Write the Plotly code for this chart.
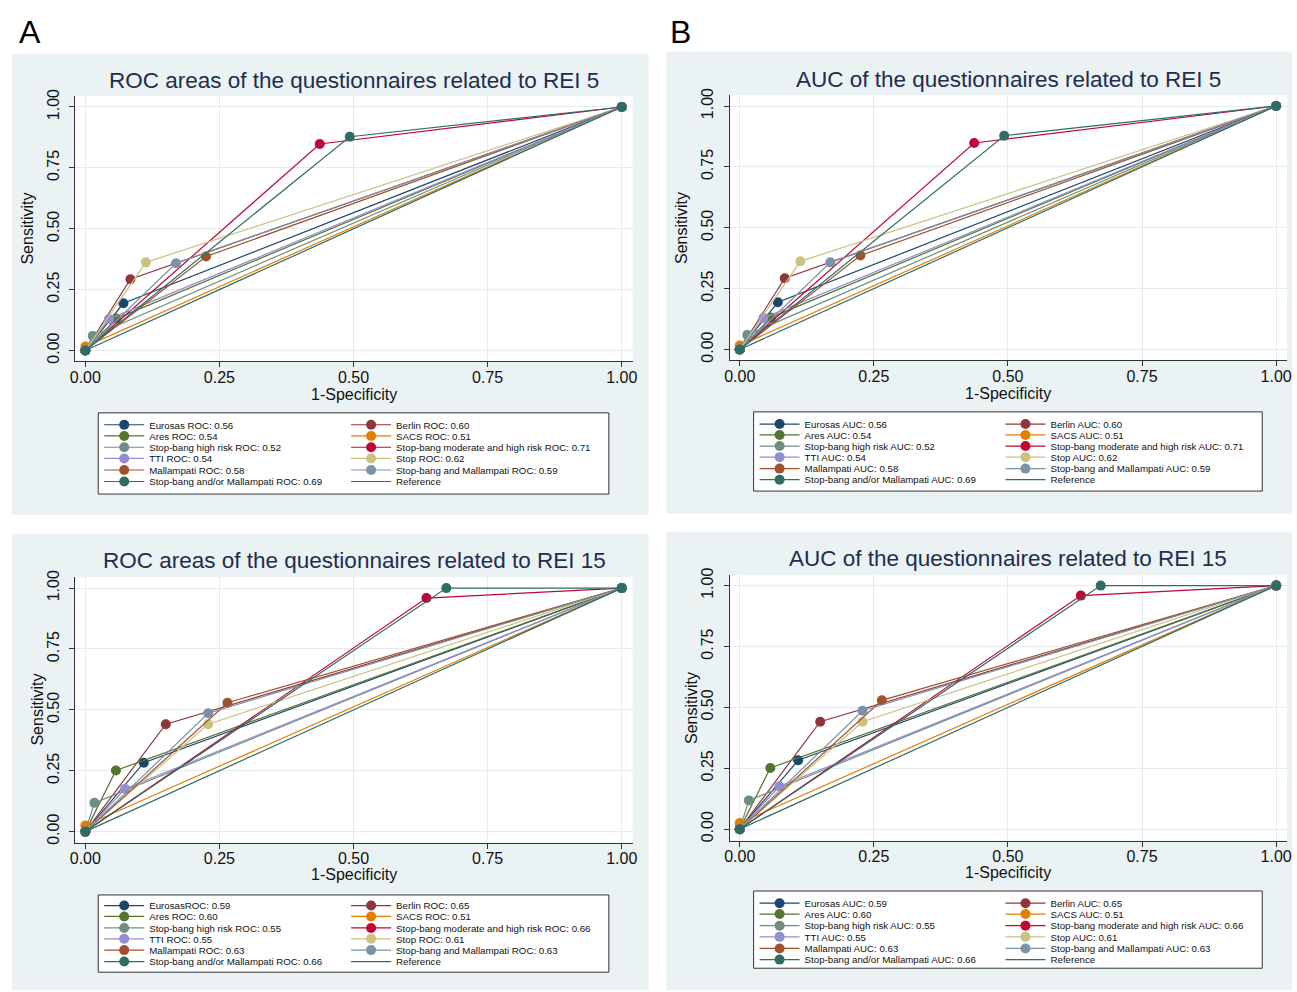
import plotly.graph_objects as go

W, H = 1297, 992
FONT = "Liberation Sans, Arial, sans-serif"

# ---------------- data ----------------
QUESTIONNAIRES = [
    "Eurosas", "Berlin", "Ares", "SACS", "Stop-bang high risk",
    "Stop-bang moderate and high risk", "TTI", "Stop", "Mallampati",
    "Stop-bang and Mallampati", "Stop-bang and/or Mallampati",
]
REFERENCE_LABEL = "Reference"
ROC_START = (0.0, 0.0)
ROC_END = (1.0, 1.0)

# operating point (1-specificity, sensitivity) for REI 5
FPR_REI5 = [0.071, 0.084, 0.058, 0.000, 0.014, 0.437, 0.044, 0.113, 0.225, 0.169, 0.493]
TPR_REI5 = [0.194, 0.293, 0.131, 0.016, 0.060, 0.848, 0.129, 0.362, 0.386, 0.358, 0.878]
AUC_REI5 = [0.56, 0.60, 0.54, 0.51, 0.52, 0.71, 0.54, 0.62, 0.58, 0.59, 0.69]

# operating point for REI 15
FPR_REI15 = [0.109, 0.150, 0.057, 0.000, 0.017, 0.636, 0.074, 0.229, 0.265, 0.229, 0.673]
TPR_REI15 = [0.283, 0.441, 0.251, 0.025, 0.118, 0.959, 0.176, 0.441, 0.529, 0.486, 1.000]
AUC_REI15 = [0.59, 0.65, 0.60, 0.51, 0.55, 0.66, 0.55, 0.61, 0.63, 0.63, 0.66]

TICK_VALUES = [0.0, 0.25, 0.50, 0.75, 1.0]
X_TITLE = "1-Specificity"
Y_TITLE = "Sensitivity"

# ---------------- style ----------------
COLORS = ["#1a476f", "#90353b", "#55752f", "#e37e00", "#6e8e84", "#c10534",
          "#938dd2", "#cac27e", "#a0522d", "#7b92a8", "#2d6d66"]
REF_COLOR = "#2d6d66"
PANEL_BG = "#eaf2f3"
GRID = "#e3ecee"
AXIS_COL = "#333333"
TITLE_COL = "#1e2d50"


def fx(px):
    return px / W


def fy(py):
    return 1 - py / H


PANELS = [
    dict(metric="ROC", title="ROC areas of the questionnaires related to REI 5",
         fpr=FPR_REI5, tpr=TPR_REI5, auc=AUC_REI5,
         box=(6, 46, 648, 512), plot=(70, 89, 632, 357), x0=80, x1=621, y1=100, y0=346,
         title_y=73, xtitle_y=390, ytitle_x=22,
         leg_box=(93, 409, 608, 491), leg_x=(94, 343),
         leg_rows=[421, 432.3, 443.7, 455, 466.7, 478.3], fix=None),
    dict(metric="AUC", title="AUC of the questionnaires related to REI 5",
         fpr=FPR_REI5, tpr=TPR_REI5, auc=AUC_REI5,
         box=(666, 44, 1297, 511), plot=(730, 88, 1292, 356), x0=740, x1=1281, y1=99, y0=345,
         title_y=72, xtitle_y=389, ytitle_x=682,
         leg_box=(754, 408, 1267, 488), leg_x=(755, 1003),
         leg_rows=[420.3, 431.3, 442.5, 453.7, 465.3, 476.5], fix=None),
    dict(metric="ROC", title="ROC areas of the questionnaires related to REI 15",
         fpr=FPR_REI15, tpr=TPR_REI15, auc=AUC_REI15,
         box=(6, 531, 648, 992), plot=(70, 575, 632, 843), x0=80, x1=621, y1=586, y0=832,
         title_y=558, xtitle_y=875, ytitle_x=32,
         leg_box=(93, 896, 608, 974), leg_x=(94, 343),
         leg_rows=[906.7, 917.7, 929.3, 940.3, 951.7, 963.3], fix=("Eurosas ROC", "EurosasROC")),
    dict(metric="AUC", title="AUC of the questionnaires related to REI 15",
         fpr=FPR_REI15, tpr=TPR_REI15, auc=AUC_REI15,
         box=(666, 529, 1297, 992), plot=(730, 573, 1292, 841), x0=740, x1=1281, y1=583.5, y0=829.5,
         title_y=556, xtitle_y=873, ytitle_x=692,
         leg_box=(754, 892, 1267, 970), leg_x=(755, 1003),
         leg_rows=[904.3, 915.3, 927, 938.3, 950, 961.3], fix=None),
]

fig = go.Figure()
shapes = []
annotations = []
layout = {}
legend_n = 0

for k, p in enumerate(PANELS):
    sfx = "" if k == 0 else str(k + 1)
    xa, ya = "x" + sfx, "y" + sfx
    L, T, R, B = p["plot"]
    xr = [(L - p["x0"]) / (p["x1"] - p["x0"]), (R - p["x0"]) / (p["x1"] - p["x0"])]
    yr = [(p["y0"] - B) / (p["y0"] - p["y1"]), (p["y0"] - T) / (p["y0"] - p["y1"])]
    common = dict(
        tickvals=TICK_VALUES, tickformat=".2f", showline=True,
        linecolor=AXIS_COL, linewidth=1, ticks="outside", ticklen=5, tickcolor=AXIS_COL,
        tickwidth=1, showgrid=True, gridcolor=GRID, gridwidth=1, zeroline=False,
        tickfont=dict(family=FONT, size=16, color="#111111"), fixedrange=True,
    )
    layout["xaxis" + sfx] = dict(common, range=xr, domain=[fx(L), fx(R)], anchor=ya,
                                 ticklabelstandoff=-4)
    layout["yaxis" + sfx] = dict(common, range=yr, domain=[fy(B), fy(T)], anchor=xa,
                                 tickangle=-90, ticklabelstandoff=4)

    # panel background, plot region, legend box
    bx0, by0, bx1, by1 = p["box"]
    shapes.append(dict(type="rect", xref="paper", yref="paper", x0=fx(bx0), x1=fx(bx1),
                       y0=fy(by1), y1=fy(by0), fillcolor=PANEL_BG, line=dict(width=0),
                       layer="below"))
    shapes.append(dict(type="rect", xref=xa + " domain", yref=ya + " domain", x0=0, x1=1,
                       y0=0, y1=1, fillcolor="white", line=dict(width=0), layer="below"))
    lx0, ly0, lx1, ly1 = p["leg_box"]
    shapes.append(dict(type="rect", xref="paper", yref="paper", x0=fx(lx0), x1=fx(lx1),
                       y0=fy(ly1), y1=fy(ly0), fillcolor="white",
                       line=dict(color=AXIS_COL, width=1), layer="below"))

    # titles
    annotations.append(dict(text=p["title"], xref="paper", yref="paper",
                            x=fx((L + R) / 2), y=fy(p["title_y"]), xanchor="center",
                            yanchor="middle", showarrow=False,
                            font=dict(family=FONT, size=22.5, color=TITLE_COL)))
    annotations.append(dict(text=X_TITLE, xref="paper", yref="paper",
                            x=fx((L + R) / 2), y=fy(p["xtitle_y"]), xanchor="center",
                            yanchor="middle", showarrow=False,
                            font=dict(family=FONT, size=16, color="#111111")))
    annotations.append(dict(text=Y_TITLE, xref="paper", yref="paper",
                            x=fx(p["ytitle_x"]), y=fy((T + B) / 2), xanchor="center",
                            yanchor="middle", showarrow=False, textangle=-90,
                            font=dict(family=FONT, size=16, color="#111111")))

    labels = [f"{q} {p['metric']}: {a:.2f}" for q, a in zip(QUESTIONNAIRES, p["auc"])]
    if p["fix"]:
        labels[0] = labels[0].replace(*p["fix"])
    labels.append(REFERENCE_LABEL)

    for i in range(12):
        legend_n += 1
        lid = "legend" if legend_n == 1 else f"legend{legend_n}"
        col, row = i % 2, i // 2
        layout[lid] = dict(x=fx(p["leg_x"][col]), y=fy(p["leg_rows"][row]), xref="paper",
                           yref="paper", xanchor="left", yanchor="middle",
                           bgcolor="rgba(0,0,0,0)", borderwidth=0, itemwidth=40,
                           tracegroupgap=0, itemclick=False, itemdoubleclick=False,
                           font=dict(family=FONT, size=9.7, color="#111111"))
        if i < 11:
            fig.add_trace(go.Scatter(
                x=[ROC_START[0], p["fpr"][i], ROC_END[0]],
                y=[ROC_START[1], p["tpr"][i], ROC_END[1]],
                mode="lines+markers", name=labels[i], legend=lid,
                xaxis=xa, yaxis=ya, cliponaxis=False,
                line=dict(color=COLORS[i], width=1.2),
                marker=dict(color=COLORS[i], size=10, symbol="circle"),
                hoverinfo="skip",
            ))
        else:
            fig.add_trace(go.Scatter(
                x=[ROC_START[0], ROC_END[0]], y=[ROC_START[1], ROC_END[1]],
                mode="lines", name=labels[i], legend=lid, xaxis=xa, yaxis=ya,
                line=dict(color=REF_COLOR, width=1.2), hoverinfo="skip",
            ))

# panel letters
annotations.append(dict(text="A", xref="paper", yref="paper", x=fx(24), y=fy(24),
                        xanchor="center", yanchor="middle", showarrow=False,
                        font=dict(family=FONT, size=32, color="black")))
annotations.append(dict(text="B", xref="paper", yref="paper", x=fx(680.5), y=fy(24),
                        xanchor="center", yanchor="middle", showarrow=False,
                        font=dict(family=FONT, size=32, color="black")))

fig.update_layout(
    width=W, height=H, autosize=False, margin=dict(l=0, r=0, t=0, b=0),
    paper_bgcolor="white", plot_bgcolor="white", shapes=shapes, annotations=annotations,
    showlegend=True, font=dict(family=FONT), **layout,
)

fig.write_html(
    "out.html",
    config={"displayModeBar": False},
    post_script="document.body.style.margin='0';document.body.style.overflow='hidden';",
)
